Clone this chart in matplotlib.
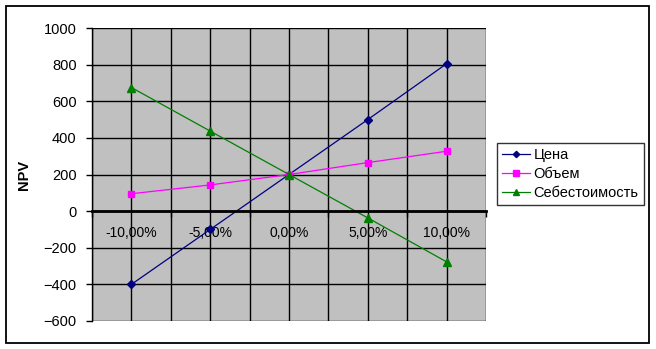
import matplotlib.pyplot as plt
from matplotlib.patches import Rectangle

plt.rcParams['font.family'] = ['Liberation Sans', 'DejaVu Sans']

# data
categories = ["-10,00%", "-5,00%", "0,00%", "5,00%", "10,00%"]
price = [-400, -100, 200, 500, 805]
volume = [95, 143, 200, 265, 327]
cost = [675, 437, 200, -37, -277]
y_ticks = [-600, -400, -200, 0, 200, 400, 600, 800, 1000]

fig = plt.figure(figsize=(6.56, 3.49), dpi=100)
ax = fig.add_axes([92 / 656, 28 / 349, 394 / 656, 293 / 349])
ax.set_facecolor("#c0c0c0")

x = list(range(len(categories)))
ax.plot(x, price, color="#000080", lw=0.9, marker="D", ms=4, label="Цена")
ax.plot(x, volume, color="#ff00ff", lw=0.9, marker="s", ms=5, label="Объем")
ax.plot(x, cost, color="#008000", lw=0.9, marker="^", ms=6, label="Себестоимость")

ax.set_xlim(-0.5, len(categories) - 0.5)
ax.set_ylim(y_ticks[0], y_ticks[-1])
ax.set_yticks(y_ticks)
ax.tick_params(axis="y", labelsize=10.5, length=4, width=1, direction="out", pad=7)

ax.set_xticks(x)
ax.set_xticklabels(categories, fontsize=10.5)
ax.set_xticks([i - 0.5 for i in range(len(categories) + 1)], minor=True)
ax.tick_params(axis="x", which="major", length=0, pad=11)
ax.tick_params(axis="x", which="minor", length=4, width=1, direction="out")

# black gridlines, none on the right edge
ax.grid(True, axis="y", color="black", lw=1)
ax.grid(True, axis="x", which="both", color="black", lw=1)
for tick in ax.xaxis.get_minor_ticks():
    if tick.get_loc() >= len(categories) - 0.5:
        tick.gridline.set_visible(False)
ax.set_axisbelow(True)

ax.spines["bottom"].set_position(("data", 0))
ax.spines["bottom"].set_linewidth(2)
ax.spines["left"].set_linewidth(1)
ax.spines["top"].set_visible(False)
ax.spines["right"].set_visible(False)

ax.set_ylabel("NPV", fontsize=10.5, fontweight="bold", labelpad=9)

leg = ax.legend(loc="center left", bbox_to_anchor=(497 / 656, 175 / 349),
                bbox_transform=fig.transFigure, fontsize=10.5, frameon=True,
                fancybox=False, edgecolor="black", borderaxespad=0,
                handlelength=1.9, labelspacing=0.35, borderpad=0.35,
                handletextpad=0.25, markerscale=0.8)
leg.get_frame().set_linewidth(1)

fig.patches.append(Rectangle((6 / 656, 6 / 349), 643 / 656, 337 / 349,
                             transform=fig.transFigure, fill=False,
                             edgecolor="black", lw=1.3))

fig.savefig("out.png", dpi=100)
